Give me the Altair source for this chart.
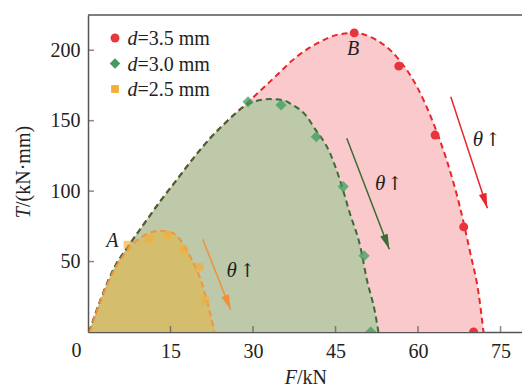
import altair as alt
import pandas as pd

FONT = "Liberation Serif"
TXT = "#222222"
AX = "#555555"

# ---- fitted curves ----
red_F = [0.2, 2.5, 4.9, 7.3, 10.05, 13.1, 16.1, 19.15, 22.2, 25.2, 28.2, 33.7, 37.9, 42.2, 45.8, 48.5, 51.3, 56.1, 59.8, 62.8, 65.2, 67.6, 69.5, 71.0, 71.9]
red_T = [0, 25.2, 46.5, 60.8, 76.0, 92.6, 107.9, 123.3, 137.5, 149.3, 159.9, 180.0, 195.3, 206.0, 211.4, 212.3, 209.5, 195.3, 174.1, 148.1, 122.1, 89.0, 56.0, 27.6, 0]
green_F = [0.2, 2.5, 4.9, 7.3, 10.05, 13.1, 16.1, 19.15, 22.2, 25.2, 28.2, 30.0, 33.1, 35.5, 36.7, 39.8, 41.0, 44.0, 45.8, 47.6, 49.5, 50.7, 52.2, 52.8]
green_T = [0, 25.2, 46.5, 60.8, 76.0, 92.6, 107.9, 123.3, 137.5, 149.3, 159.6, 163.3, 165.3, 164.6, 162.3, 152.8, 145.7, 126.9, 107.9, 84.3, 60.7, 37.1, 13.5, 0]
orange_F = [0.3, 2.5, 4.9, 7.6, 10.4, 13.1, 15.2, 17.0, 18.9, 20.7, 21.9, 23.0]
orange_T = [0, 24.5, 45.0, 60.0, 69.0, 71.8, 70.6, 64.2, 51.2, 34.7, 18.1, 0]

# ---- measured points ----
red_pF = [48.4, 56.5, 63.1, 68.3, 70.1]
red_pT = [212.3, 188.7, 139.8, 74.6, 0]
green_pF = [29.1, 35.1, 41.5, 46.4, 50.2, 51.4]
green_pT = [163.4, 161.1, 138.6, 103.2, 54.1, 0]
orange_pF = [7.2, 11.1, 14.5, 17.4, 20.2, 21.3]
orange_pT = [61.9, 66.1, 69.0, 58.3, 46.1, 22.4]

# ---- ticks ----
X_TICKS = [15, 30, 45, 60, 75]
Y_TICKS = [50, 100, 150, 200]

# ---- annotations ----
arrow_F1 = [20.85, 47.04, 65.95]
arrow_T1 = [65.9, 137.5, 167.0]
arrow_F2 = [25.94, 54.78, 72.6]
arrow_T2 = [15.8, 58.8, 87.9]
arrow_angle = [158.4, 159.0, 161.8]
arrow_color = ["#f0913a", "#3d6b35", "#e8262b"]
theta_F = [26.1, 53.1, 70.9]
up_F = [29.0, 55.8, 73.6]
theta_T = [39.2, 100.9, 132.2]
pt_label = ["A", "B"]
pt_label_F = [4.45, 48.2]
pt_label_T = [60.5, 196.3]

legend_labels = ["=3.5 mm", "=3.0 mm", "=2.5 mm"]
legend_colors = ["#e8383f", "#3e9c5d", "#f2ae35"]
legend_shapes = ["circle", "diamond", "square"]
legend_sizes = [80, 110, 60]

W, H = 434, 317
xs = alt.Scale(domain=[0, 78.9], nice=False, zero=False)
ys = alt.Scale(domain=[0, 225], nice=False, zero=False)
xa = alt.Axis(values=X_TICKS, ticks=False, grid=False, title=None, labelPadding=9)
ya = alt.Axis(values=Y_TICKS, ticks=False, grid=False, title=None, labelPadding=8)


def X(f):
    return alt.X(f, type="quantitative", scale=xs, axis=xa)


def Y(f, **kw):
    return alt.Y(f, type="quantitative", scale=ys, axis=ya, **kw)


areas = []
lines = []
for F, T, fill, stroke in [
    (red_F, red_T, "#f9c9cb", "#e8262b"),
    (green_F, green_T, "#bec9a9", "#3b6b3a"),
    (orange_F, orange_T, "#d4bd6c", "#f0953c"),
]:
    df = pd.DataFrame({"F": F, "T": T})
    areas.append(alt.Chart(df).mark_area(interpolate="monotone", fill=fill, fillOpacity=1,
                                         stroke="transparent").encode(
        x=X("F"), y=Y("T", stack=None), y2=alt.Y2(datum=0)))
    lines.append(alt.Chart(df).mark_line(interpolate="monotone", color=stroke, strokeWidth=2,
                                         strokeDash=[6, 4]).encode(
        x=X("F"), y=Y("T"), order=alt.Order("F:Q")))

points = []
for F, T, col, shp, sz, op in [
    (red_pF, red_pT, "#e8353d", "circle", 80, 1.0),
    (green_pF, green_pT, "#3e9c5d", "diamond", 125, 0.75),
    (orange_pF, orange_pT, "#f2ae35", "square", 64, 0.65),
]:
    df = pd.DataFrame({"F": F, "T": T})
    points.append(alt.Chart(df).mark_point(filled=True, shape=shp, size=sz, color=col,
                                           opacity=op, clip=True).encode(x=X("F"), y=Y("T")))

# arrows
adf = pd.DataFrame({"F1": arrow_F1, "T1": arrow_T1, "F2": arrow_F2, "T2": arrow_T2,
                    "ang": arrow_angle, "col": arrow_color})
arrow_lines = alt.Chart(adf).mark_rule(strokeWidth=1.5).encode(
    x=X("F1"), y=Y("T1"), x2="F2", y2="T2", color=alt.Color("col:N", scale=None))
arrow_heads = alt.Chart(adf).mark_point(filled=True, opacity=1,
                                        shape="M0,0L0.5,1.9L-0.5,1.9Z", size=250).encode(
    x=X("F2"), y=Y("T2"), angle=alt.Angle("ang:Q", scale=None),
    color=alt.Color("col:N", scale=None))

tdf = pd.DataFrame({"F": theta_F, "F2": up_F, "T": theta_T})
theta_txt = alt.Chart(tdf).mark_text(font=FONT, fontSize=21, fontStyle="italic", color=TXT,
                                     align="center", baseline="alphabetic").encode(
    x=X("F"), y=Y("T"), text=alt.value("θ"))
up_txt = alt.Chart(tdf).mark_text(font="DejaVu Serif", fontSize=19, color=TXT,
                                  align="center", baseline="alphabetic").encode(
    x=X("F2"), y=Y("T"), text=alt.value("↑"))

ldf = pd.DataFrame({"lab": pt_label, "F": pt_label_F, "T": pt_label_T})
ab_txt = alt.Chart(ldf).mark_text(font=FONT, fontSize=20, fontStyle="italic", color=TXT,
                                  align="center", baseline="alphabetic").encode(
    x=X("F"), y=Y("T"), text="lab:N")

# manual inward ticks
xt = alt.Chart(pd.DataFrame({"v": X_TICKS})).mark_tick(
    orient="vertical", size=6, thickness=1.5, color=AX).encode(
    x=X("v"), y=alt.value(H - 3))
yt = alt.Chart(pd.DataFrame({"v": Y_TICKS})).mark_tick(
    orient="horizontal", size=6, thickness=1.5, color=AX).encode(
    y=Y("v"), x=alt.value(3))

one = pd.DataFrame({"a": [0]})
top_rule = alt.Chart(one).mark_rule(color=AX, strokeWidth=1.5).encode(
    x=alt.value(0), x2=alt.value(W), y=alt.value(0))

# axis titles & origin label
zero_lbl = alt.Chart(one).mark_text(font=FONT, fontSize=20, color=TXT, align="center",
                                    baseline="alphabetic").encode(
    x=alt.value(-11.5), y=alt.value(342), text=alt.value("0"))
xt1 = alt.Chart(one).mark_text(font=FONT, fontSize=20, fontStyle="italic", color=TXT,
                               align="right", baseline="alphabetic").encode(
    x=alt.value(209), y=alt.value(369), text=alt.value("F"))
xt2 = alt.Chart(one).mark_text(font=FONT, fontSize=20, color=TXT,
                               align="left", baseline="alphabetic").encode(
    x=alt.value(209), y=alt.value(369), text=alt.value("/kN"))
yt1 = alt.Chart(one).mark_text(font=FONT, fontSize=20, fontStyle="italic", color=TXT,
                               align="right", baseline="alphabetic", angle=270).encode(
    x=alt.value(-58), y=alt.value(192), text=alt.value("T"))
yt2 = alt.Chart(one).mark_text(font=FONT, fontSize=20, color=TXT,
                               align="left", baseline="alphabetic", angle=270).encode(
    x=alt.value(-58), y=alt.value(192), text=alt.value("/(kN·mm)"))

# legend
legend_layers = []
for i in range(3):
    ym = 23 + 25.5 * i
    legend_layers.append(alt.Chart(one).mark_point(
        filled=True, opacity=1, shape=legend_shapes[i], size=legend_sizes[i],
        color=legend_colors[i]).encode(x=alt.value(27), y=alt.value(ym)))
    legend_layers.append(alt.Chart(one).mark_text(
        font=FONT, fontSize=20, fontStyle="italic", color=TXT, align="right",
        baseline="alphabetic").encode(x=alt.value(49.5), y=alt.value(ym + 7),
                                      text=alt.value("d")))
    legend_layers.append(alt.Chart(one).mark_text(
        font=FONT, fontSize=20, color=TXT, align="left",
        baseline="alphabetic").encode(x=alt.value(49.5), y=alt.value(ym + 7),
                                      text=alt.value(legend_labels[i])))

chart = alt.layer(
    *areas, *lines, arrow_lines, arrow_heads, *points, theta_txt, up_txt, ab_txt,
    xt, yt, top_rule, zero_lbl, xt1, xt2, yt1, yt2, *legend_layers
).properties(
    width=W, height=H,
    padding={"left": 88, "top": 15, "right": 0, "bottom": 55},
    autosize=alt.AutoSizeParams(type="none"),
).configure_view(stroke="transparent").configure_axis(
    labelFont=FONT, labelFontSize=20, labelColor=TXT, domainColor=AX, domainWidth=1.5,
)

chart.save("out.html", embed_options={"renderer": "svg", "actions": False})
